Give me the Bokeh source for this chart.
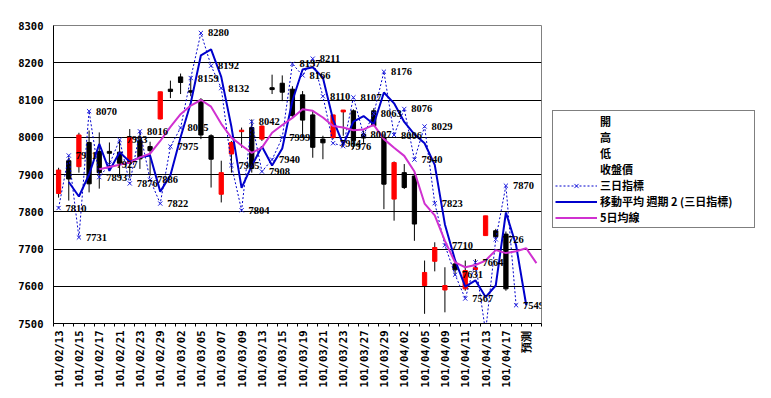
import math
from bokeh.plotting import figure
from bokeh.models import (Range1d, FixedTicker, SingleIntervalTicker, Legend, LegendItem,
                          ColumnDataSource, LabelSet)
from bokeh.embed import file_html
from bokeh.resources import INLINE

# ---------------- data ----------------
dates = ["101/02/13", "101/02/14", "101/02/15", "101/02/16", "101/02/17", "101/02/20",
         "101/02/21", "101/02/22", "101/02/23", "101/02/24", "101/02/29", "101/03/01",
         "101/03/02", "101/03/03", "101/03/05", "101/03/06", "101/03/07", "101/03/08",
         "101/03/09", "101/03/12", "101/03/13", "101/03/14", "101/03/15", "101/03/16",
         "101/03/19", "101/03/20", "101/03/21", "101/03/22", "101/03/23", "101/03/26",
         "101/03/27", "101/03/28", "101/03/29", "101/03/30", "101/04/02", "101/04/03",
         "101/04/05", "101/04/06", "101/04/09", "101/04/10", "101/04/11", "101/04/12",
         "101/04/13", "101/04/16", "101/04/17", "101/04/18", "預測", ""]

open_ = [7849, 7937, 7921, 7986, 7962, 7962, 7960, 7930, 7991, 7975, 8049, 8129, 8162, 8125, 8100,
         8004, 7847, 7955, 8015, 8026, 7995, 8133, 8145, 8129, 8114, 8060, 7995, 7999, 8068, 8071,
         8008, 8071, 7999, 7834, 7905, 7896, 7602, 7667, 7590, 7660, 7593, 7645, 7736, 7749, 7740]
high = [7918, 7946, 8012, 8018, 8013, 7986, 7990, 8022, 8018, 7988, 8122, 8152, 8171, 8160, 8105,
        8008, 7937, 7990, 8026, 8048, 8032, 8168, 8166, 8137, 8124, 8071, 8004, 8060, 8073, 8075,
        8018, 8078, 8008, 7935, 7928, 7905, 7669, 7718, 7651, 7671, 7669, 7673, 7789, 7754, 7747]
low = [7838, 7830, 7905, 7852, 7862, 7910, 7895, 7890, 7915, 7897, 8048, 8105, 8116, 8110, 7995,
       7865, 7825, 7905, 7972, 7905, 7990, 8116, 8097, 8053, 7999, 7945, 7941, 7995, 8004, 7969,
       7985, 8031, 7807, 7776, 7861, 7722, 7526, 7640, 7530, 7628, 7588, 7642, 7736, 7728, 7588]
close = [7912, 7888, 8006, 7875, 7905, 7957, 7930, 8000, 7942, 7964, 8122, 8123, 8147, 8121, 8006,
         7941, 7905, 7986, 8019, 7919, 8030, 8128, 8121, 8058, 8046, 7973, 7985, 8060, 8073, 7991,
         7998, 8031, 7874, 7932, 7865, 7767, 7637, 7704, 7602, 7644, 7642, 7650, 7789, 7733, 7593]

# 三日指標 (points 1..46)
three_day = [7810, 7951, 7731, 8070, 7893, 7927, 7993, 7876, 8016, 7886, 7822, 7975, 8025, 8159,
             8280, 8192, 8132, 7925, 7804, 8042, 7908, 7940, 7999, 8197, 8166, 8211, 8110, 7984,
             7976, 8107, 8007, 8063, 8176, 8006, 8076, 7940, 8029, 7823, 7710, 7631, 7567, 7664,
             7478, 7726, 7870, 7549]
three_day_labels = ["7810", "7951", "7731", "8070", "7893", "7927", "7993", "7876", "8016", "7886",
                    "7822", "7975", "8025", "8159", "8280", "8192", "8132", "7925", "7804", "8042",
                    "7908", "7940", "7999", "8197", "8166", "8211", "8110", "7984", "7976", "8107",
                    "8007", "8063", "8176", "8006", "8076", "7940", "8029", "7823", "7710", "7631",
                    "7567", "7664", "", "7726", "7870", "7549"]

# 移動平均 週期 2 (points 2..47)
ma2 = [7880, 7841, 7900, 7982, 7910, 7960, 7934, 7946, 7951, 7854, 7898, 8000, 8092, 8220, 8236,
       8162, 8028, 7864, 7923, 7975, 7924, 7970, 8098, 8182, 8188, 8160, 8047, 7980, 8042, 8057,
       8035, 8120, 8091, 8041, 8008, 7984, 7926, 7766, 7670, 7599, 7616, 7571, 7602, 7798, 7710,
       7549]

# 5日均線 (points 5..48)
ma5 = [7914, 7920, 7926, 7932, 7946, 7956, 7990, 8028, 8062, 8085, 8100, 8082, 8036, 7999, 7978,
       7958, 7972, 8012, 8033, 8052, 8075, 8071, 8053, 8030, 8026, 8019, 8021, 8033, 7995, 7972,
       7950, 7908, 7822, 7790, 7722, 7664, 7651, 7657, 7669, 7697, 7689, 7694, 7702, 7662]

y_ticks = [7500, 7600, 7700, 7800, 7900, 8000, 8100, 8200, 8300]

# ---------------- figure ----------------
FONT = "DejaVu Sans Mono"
n = len(dates)
xs = list(range(1, n + 1))

p = figure(frame_width=488, frame_height=298, output_backend="svg", toolbar_location=None,
           x_range=Range1d(0.5, n + 0.5), y_range=Range1d(y_ticks[0], y_ticks[-1]),
           min_border_left=53, min_border_right=214, min_border_top=25, min_border_bottom=59)
p.background_fill_color = "white"
p.border_fill_color = "white"
p.outline_line_color = "#808080"
p.outline_line_width = 1
p.xgrid.visible = False
p.ygrid.grid_line_color = "black"
p.ygrid.grid_line_width = 1

p.yaxis.ticker = SingleIntervalTicker(interval=100)
p.yaxis.major_tick_out = 0
p.yaxis.major_tick_in = 0
p.yaxis.minor_tick_out = 0
p.yaxis.minor_tick_in = 0
p.yaxis.major_label_standoff = 10
p.yaxis.axis_line_color = "black"
p.yaxis.major_label_text_font = FONT
p.yaxis.major_label_text_font_style = "bold"
p.yaxis.major_label_text_font_size = "10.5px"
p.yaxis.major_label_text_color = "black"

p.xaxis.ticker = FixedTicker(ticks=xs[::2], minor_ticks=[x + 0.5 for x in range(0, n + 1)])
p.xaxis.major_label_overrides = {x: dates[x - 1] for x in xs[::2]}
p.xaxis.major_tick_out = 0
p.xaxis.major_tick_in = 0
p.xaxis.minor_tick_out = 3
p.xaxis.minor_tick_in = 0
p.xaxis.minor_tick_line_color = "black"
p.xaxis.axis_line_color = "black"
p.xaxis.major_label_orientation = math.pi / 2
p.xaxis.major_label_standoff = 4
p.xaxis.major_label_text_font = FONT
p.xaxis.major_label_text_font_style = "bold"
p.xaxis.major_label_text_font_size = "10.5px"
p.xaxis.major_label_text_color = "black"

# candlesticks
nc = len(open_)
cx = xs[:nc]
candle = ColumnDataSource(dict(
    x=cx, high=high, low=low,
    top=[max(o, c) for o, c in zip(open_, close)],
    bottom=[min(o, c) for o, c in zip(open_, close)],
    color=["#FF0000" if c >= o else "#000000" for o, c in zip(open_, close)],
))
p.segment(x0="x", y0="high", x1="x", y1="low", source=candle, line_color="black", line_width=1)
p.vbar(x="x", width=0.42, top="top", bottom="bottom", source=candle,
       fill_color="color", line_color="color", line_width=1)

# legend-only renderers for 開 / 高 / 低 / 收盤價
r_open = p.line([], [], line_alpha=0)
r_high = p.line([], [], line_alpha=0)
r_low = p.line([], [], line_alpha=0)
r_close = p.line([], [], line_alpha=0)

# 三日指標
tx = xs[:len(three_day)]
r_dot = p.line(tx, three_day, line_color="#0000CC", line_width=1, line_dash="2 2")
r_x = p.scatter(tx, three_day, marker="x", size=6, line_color="#2020E0", line_width=1)

# 移動平均 週期 2
r_ma = p.line(xs[1:1 + len(ma2)], ma2, line_color="#0000CC", line_width=2)

# 5日均線
r_m5 = p.line(xs[4:4 + len(ma5)], ma5, line_color="#D030D0", line_width=2)

# data labels (last one in the side panel so it is not clipped by the frame)
lab_src = ColumnDataSource(dict(x=tx[:-1], y=three_day[:-1], t=three_day_labels[:-1]))
p.add_layout(LabelSet(x="x", y="y", text="t", source=lab_src, x_offset=7, y_offset=0,
                      text_baseline="middle", text_align="left", text_font=FONT,
                      text_font_style="bold", text_font_size="10.5px", text_color="black"))
last_src = ColumnDataSource(dict(x=tx[-1:], y=three_day[-1:], t=three_day_labels[-1:]))
p.add_layout(LabelSet(x="x", y="y", text="t", source=last_src, x_offset=7, y_offset=0,
                      text_baseline="middle", text_align="left", text_font=FONT,
                      text_font_style="bold", text_font_size="10.5px", text_color="black"),
             "right")

legend = Legend(items=[
    LegendItem(label="開", renderers=[r_open]),
    LegendItem(label="高", renderers=[r_high]),
    LegendItem(label="低", renderers=[r_low]),
    LegendItem(label="收盤價", renderers=[r_close]),
    LegendItem(label="三日指標", renderers=[r_dot, r_x]),
    LegendItem(label="移動平均 週期 2 (三日指標)", renderers=[r_ma]),
    LegendItem(label="5日均線", renderers=[r_m5]),
], location=(11, 95))
legend.border_line_color = "black"
legend.border_line_width = 1
legend.background_fill_color = "white"
legend.background_fill_alpha = 1
legend.padding = 2
legend.spacing = 0
legend.margin = 0
legend.glyph_width = 42
legend.glyph_height = 15
legend.label_height = 15
legend.label_standoff = 3
legend.label_width = 152
legend.label_text_font = "Noto Sans CJK TC"
legend.label_text_font_style = "bold"
legend.label_text_font_size = "11px"
legend.label_text_color = "black"
p.add_layout(legend, "right")

open("out.html", "w").write(file_html(p, INLINE))
